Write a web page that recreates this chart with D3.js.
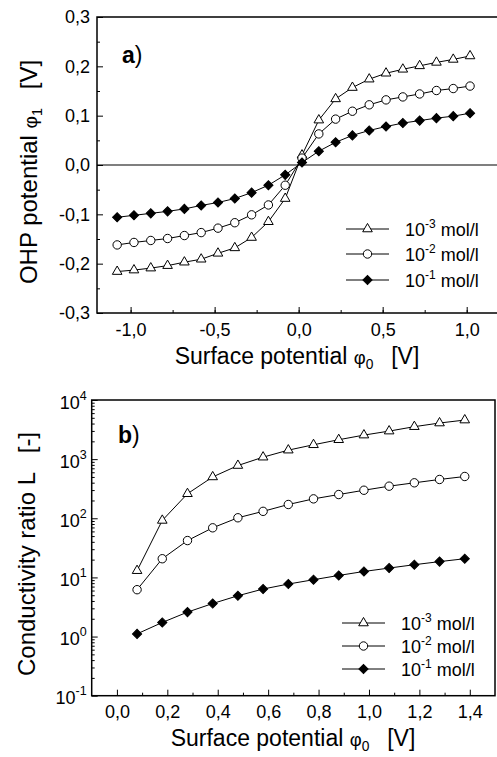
<!DOCTYPE html>
<html>
<head>
<meta charset="utf-8">
<script src="https://cdn.jsdelivr.net/npm/d3@7"></script>
<style>
  body { margin: 0; background: #fff; }
  svg { display: block; font-family: Arial, "Liberation Sans", sans-serif; }
</style>
</head>
<body>
<div id="chart"></div>
<script>
// panel a) OHP potential vs surface potential
const phi0Top = [-1.08, -0.98, -0.88, -0.78, -0.68, -0.58, -0.48, -0.38, -0.28, -0.18, -0.08,
                 0.02, 0.12, 0.22, 0.32, 0.42, 0.52, 0.62, 0.72, 0.82, 0.92, 1.02];
const ohpC3 = [-0.216, -0.213, -0.209, -0.204, -0.197, -0.191, -0.179, -0.168, -0.147, -0.115, -0.068,
               0.020, 0.091, 0.134, 0.157, 0.174, 0.186, 0.194, 0.201, 0.208, 0.214, 0.221];
const ohpC2 = [-0.162, -0.157, -0.153, -0.149, -0.143, -0.137, -0.128, -0.117, -0.101, -0.081, -0.041,
               0.014, 0.063, 0.093, 0.109, 0.122, 0.132, 0.138, 0.144, 0.151, 0.155, 0.160];
const ohpC1 = [-0.106, -0.102, -0.098, -0.094, -0.089, -0.082, -0.076, -0.068, -0.056, -0.041, -0.020,
               0.005, 0.028, 0.046, 0.060, 0.070, 0.078, 0.085, 0.090, 0.095, 0.099, 0.105];

// panel b) conductivity ratio vs surface potential
const phi0Bot = [0.08, 0.18, 0.28, 0.38, 0.48, 0.58, 0.68, 0.78, 0.88, 0.98, 1.08, 1.18, 1.28, 1.38];
const condC3 = [13, 92, 260, 500, 780, 1080, 1420, 1750, 2130, 2550, 2980, 3540, 4080, 4580];
const condC2 = [6.2, 20.7, 42, 69, 102, 131, 171, 213, 252, 298, 349, 398, 453, 509];
const condC1 = [1.11, 1.73, 2.59, 3.62, 4.9, 6.36, 7.73, 9.14, 10.8, 12.6, 14.4, 16.4, 18.5, 20.7];

const seriesNames = ["-3", "-2", "-1"];   // exponent of concentration, mol/l
const markerKinds = ["triangle", "circle", "diamond"];

const topXTicks = [-1.0, -0.5, 0.0, 0.5, 1.0];
const topYTicks = [-0.3, -0.2, -0.1, 0.0, 0.1, 0.2, 0.3];
const botXTicks = [0.0, 0.2, 0.4, 0.6, 0.8, 1.0, 1.2, 1.4];
const botYExp = [-1, 0, 1, 2, 3, 4];

const W = 497, H = 757;
const TICK_FS = 18;
const svg = d3.select("#chart").append("svg").attr("width", W).attr("height", H);

const comma = d => d3.format(".1f")(d).replace(".", ",").replace("\u2212", "-");

function styleAxis(a) {
  a.select(".domain").remove();
  a.attr("font-family", null).attr("font-size", null);
  a.selectAll(".tick text").attr("font-size", TICK_FS).attr("fill", "#000");
}

function marker(g, kind, x, y) {
  if (kind === "triangle") {
    g.append("path").attr("d", d3.symbol(d3.symbolTriangle, 40)())
      .attr("transform", `translate(${x},${y})`)
      .attr("fill", "#fff").attr("stroke", "#000").attr("stroke-width", 1);
  } else if (kind === "circle") {
    g.append("circle").attr("cx", x).attr("cy", y).attr("r", 4.2)
      .attr("fill", "#fff").attr("stroke", "#000").attr("stroke-width", 1);
  } else {
    g.append("path").attr("d", d3.symbol(d3.symbolSquare, 42)())
      .attr("transform", `translate(${x},${y}) rotate(45)`)
      .attr("fill", "#000").attr("stroke", "#000").attr("stroke-width", 1);
  }
}

function drawSeries(g, xs, ys, x, y, kind) {
  const pts = xs.map((d, i) => [x(d), y(ys[i])]);
  g.append("path").attr("d", d3.line()(pts))
    .attr("fill", "none").attr("stroke", "#000").attr("stroke-width", 1);
  pts.forEach(p => marker(g, kind, p[0], p[1]));
}

function legend(g, x0, rows) {
  rows.forEach((ry, i) => {
    g.append("line").attr("x1", x0).attr("x2", x0 + 43).attr("y1", ry).attr("y2", ry)
      .attr("stroke", "#000").attr("stroke-width", 1);
    marker(g, markerKinds[i], x0 + 21.5, ry);
    const t = g.append("text").attr("x", x0 + 59).attr("y", ry + 6.5)
      .attr("font-size", 18);
    t.append("tspan").text("10");
    t.append("tspan").attr("font-size", 12).attr("dy", -8).text(seriesNames[i]);
    t.append("tspan").attr("dy", 8).text(" mol/l");
  });
}

function phiTitle(t, sub, fs) {
  t.append("tspan").attr("font-size", fs * 0.8).text("\u03c6");
  t.append("tspan").attr("font-size", fs * 0.6).attr("dy", 5).text(sub);
  t.append("tspan").attr("dy", -5).text("\u2002 [V]");
}

// ---------- panel a ----------
const xa = d3.scaleLinear([-1.2, 1.2], [97, 500.3]);
const ya = d3.scaleLinear([-0.3, 0.3], [313, 17]);
const ga = svg.append("g");

ga.append("g").attr("transform", `translate(0,${313})`)
  .call(d3.axisBottom(xa).tickValues(d3.range(-1.0, 1.26, 0.25)).tickSize(-3).tickFormat(""))
  .call(styleAxis);
ga.append("g").attr("transform", `translate(0,${313})`)
  .call(d3.axisBottom(xa).tickValues(topXTicks).tickSize(-6).tickPadding(10).tickFormat(comma))
  .call(styleAxis);
ga.append("g").attr("transform", `translate(97,0)`)
  .call(d3.axisLeft(ya).tickValues(d3.range(-0.25, 0.3, 0.1)).tickSize(-3).tickFormat(""))
  .call(styleAxis);
ga.append("g").attr("transform", `translate(97,0)`)
  .call(d3.axisLeft(ya).tickValues(topYTicks).tickSize(-6).tickPadding(7).tickFormat(comma))
  .call(styleAxis);

ga.append("line").attr("x1", 97).attr("x2", 500).attr("y1", ya(0)).attr("y2", ya(0))
  .attr("stroke", "#000").attr("stroke-width", 1.2);
ga.append("rect").attr("x", 97).attr("y", 17).attr("width", 403).attr("height", 296)
  .attr("fill", "none").attr("stroke", "#000").attr("stroke-width", 1.5);

[ohpC3, ohpC2, ohpC1].forEach((ys, i) => drawSeries(ga, phi0Top, ys, xa, ya, markerKinds[i]));
legend(ga, 346, [229, 254, 280]);

const la = ga.append("text").attr("x", 122).attr("y", 63).attr("font-size", 23);
la.append("tspan").attr("font-weight", "bold").text("a");
la.append("tspan").text(")");

const xta = ga.append("text").attr("x", 297).attr("y", 364).attr("text-anchor", "middle").attr("font-size", 23);
xta.append("tspan").text("Surface potential ");
phiTitle(xta, "0", 23);

const yta = ga.append("text").attr("transform", `translate(37,172) rotate(-90)`)
  .attr("text-anchor", "middle").attr("font-size", 24);
yta.append("tspan").text("OHP potential ");
phiTitle(yta, "1", 24);

// ---------- panel b ----------
const xb = d3.scaleLinear([-0.1, 1.5], [91.7, 495]);
const yb = d3.scaleLog([0.1, 1e4], [695.7, 400]);
const gb = svg.append("g");

gb.append("g").attr("transform", `translate(0,695.7)`)
  .call(d3.axisBottom(xb).tickValues(d3.range(0.1, 1.4, 0.2)).tickSize(-3).tickFormat(""))
  .call(styleAxis);
gb.append("g").attr("transform", `translate(0,695.7)`)
  .call(d3.axisBottom(xb).tickValues(botXTicks).tickSize(-6).tickPadding(10).tickFormat(comma))
  .call(styleAxis);

const minorLog = [];
botYExp.slice(0, -1).forEach(e => { for (let m = 2; m <= 9; m++) minorLog.push(m * Math.pow(10, e)); });
gb.append("g").attr("transform", `translate(91.7,0)`)
  .call(d3.axisLeft(yb).tickValues(minorLog).tickSize(-3).tickFormat(""))
  .call(styleAxis);
const yAxB = gb.append("g").attr("transform", `translate(91.7,0)`)
  .call(d3.axisLeft(yb).tickValues(botYExp.map(e => Math.pow(10, e))).tickSize(-6).tickFormat(""))
  .call(styleAxis);
yAxB.selectAll(".tick text").remove();
yAxB.selectAll(".tick").each(function (d) {
  const e = Math.round(Math.log10(d));
  const t = d3.select(this).append("text").attr("x", -5).attr("dy", "0.45em")
    .attr("text-anchor", "end").attr("fill", "#000").attr("font-size", TICK_FS);
  t.append("tspan").text("10");
  t.append("tspan").attr("font-size", 12.5).attr("dy", -9).text(e);
});

gb.append("rect").attr("x", 91.7).attr("y", 400).attr("width", 403.3).attr("height", 295.7)
  .attr("fill", "none").attr("stroke", "#000").attr("stroke-width", 1.5);

[condC3, condC2, condC1].forEach((ys, i) => drawSeries(gb, phi0Bot, ys, xb, yb, markerKinds[i]));
legend(gb, 342, [623, 646, 669]);

const lb = gb.append("text").attr("x", 118).attr("y", 443).attr("font-size", 23);
lb.append("tspan").attr("font-weight", "bold").text("b");
lb.append("tspan").text(")");

const xtb = gb.append("text").attr("x", 293).attr("y", 746).attr("text-anchor", "middle").attr("font-size", 23);
xtb.append("tspan").text("Surface potential ");
phiTitle(xtb, "0", 23);

gb.append("text").attr("transform", `translate(35,554) rotate(-90)`)
  .attr("text-anchor", "middle").attr("font-size", 24)
  .text("Conductivity ratio L\u2002 [-]");
</script>
</body>
</html>
